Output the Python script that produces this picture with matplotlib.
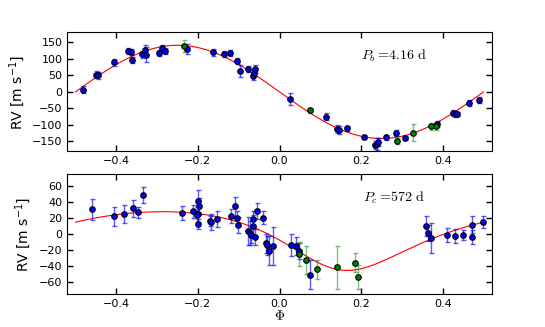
import numpy as np
import matplotlib
matplotlib.use("Agg")
import matplotlib.pyplot as plt

# planet b: phase, RV, error
b_phase_blue = [-0.481, -0.449, -0.445, -0.405, -0.371, -0.364, -0.362, -0.337, -0.329, -0.326,
                -0.296, -0.288, -0.281, -0.226, -0.162, -0.136, -0.121, -0.105, -0.096, -0.078,
                -0.065, -0.063, -0.059, 0.025, 0.115, 0.142, 0.146, 0.166, 0.207, 0.235,
                0.239, 0.241, 0.262, 0.286, 0.308, 0.387, 0.424, 0.430, 0.436, 0.465, 0.489]
b_rv_blue = [7, 52, 50, 89, 123, 120, 96, 114, 128, 113,
             118, 132, 124, 130, 120, 115, 118, 94, 62, 68,
             47, 57, 69, -22, -75, -113, -115, -110, -136, -160,
             -157, -152, -137, -123, -140, -96, -64, -67, -67, -34, -25]
b_err_blue = [10, 10, 10, 10, 9, 9, 10, 10, 14, 22,
              9, 10, 9, 14, 10, 10, 9, 10, 18, 9,
              10, 9, 12, 18, 10, 12, 12, 8, 7, 12,
              18, 12, 8, 9, 7, 9, 8, 8, 7, 10, 10]
b_phase_green = [-0.234, 0.075, 0.287, 0.328, 0.371, 0.383]
b_rv_green = [138, -56, -148, -123, -104, -104]
b_err_green = [18, 8, 10, 27, 10, 10]

# planet c
c_phase_blue = [-0.459, -0.406, -0.381, -0.359, -0.346, -0.335, -0.239, -0.212, -0.199, -0.198,
                -0.200, -0.202, -0.200, -0.171, -0.168, -0.153, -0.120, -0.108, -0.104, -0.102,
                -0.077, -0.073, -0.069, -0.066, -0.065, -0.061, -0.054, -0.041, -0.033, -0.031,
                -0.025, -0.017, 0.029, 0.040, 0.047, 0.075, 0.358, 0.365, 0.371, 0.410,
                0.430, 0.450, 0.471, 0.472, 0.499]
c_rv_blue = [31, 22.5, 25, 32.3, 27.2, 49.3, 26.8, 28.5, 41.2, 35.7,
             25, 24, 12.8, 16.1, 15.3, 19.5, 23, 34.8, 20.4, 11,
             3.8, 1.3, -0.9, 19.5, 9.7, -3.1, 28.5, 20.4, -11.5, -14,
             -20.9, -14.5, -13.2, -15, -21, -50.6, 10.2, 1.3, -5.1, -1.3,
             -2.2, -1.3, 11.9, -3.8, 15.3]
c_err_blue = [12.8, 11.7, 11.3, 11, 6.4, 10.2, 8.5, 8, 13.8, 10,
              10, 10, 6, 6, 10, 10, 9, 12, 9, 10,
              18, 15, 10, 10, 14, 10, 10, 8, 12, 12,
              18, 24, 13.6, 11, 10, 18, 13, 10, 18.7, 9,
              9, 6, 11, 9, 7]
c_phase_green = [0.049, 0.066, 0.091, 0.142, 0.184, 0.193]
c_rv_green = [-25, -32.4, -44.3, -41.7, -35.7, -54]
c_err_green = [15, 17, 12.5, 27, 12, 15]

# orbit models (b circular, c Keplerian)
K_b, phase_max_b = 141.0, -0.25
K_c, e_c, w_c_deg, tp_c, gamma_c = 36.8, 0.24, 162.0, 0.136, -0.3


def kepler_rv(phase, K, e, w, tp, gamma):
    M = 2 * np.pi * (np.asarray(phase) - tp)
    E = M.copy()
    for _ in range(30):
        E = E - (E - e * np.sin(E) - M) / (1 - e * np.cos(E))
    nu = 2 * np.arctan2(np.sqrt(1 + e) * np.sin(E / 2), np.sqrt(1 - e) * np.cos(E / 2))
    return K * (np.cos(nu + w) + e * np.cos(w)) + gamma


fig = plt.figure(figsize=(5.45, 3.27), dpi=100)
ax1 = fig.add_axes([0.1235, 0.537, 0.7787, 0.364])
ax2 = fig.add_axes([0.1235, 0.101, 0.7787, 0.366])

phi = np.linspace(-0.5, 0.5, 500)


def draw(ax, pb, vb, eb, pg, vg, eg, model):
    ax.plot(phi, model, color='r', lw=0.8, zorder=1)
    ax.errorbar(pb, vb, yerr=eb, fmt='none', ecolor='b', alpha=0.65, elinewidth=1,
                capsize=1.8, capthick=1, zorder=2)
    ax.errorbar(pg, vg, yerr=eg, fmt='none', ecolor='g', alpha=0.5, elinewidth=1,
                capsize=1.8, capthick=1, zorder=2)
    ax.plot(pb, vb, 'o', mfc='b', mec='k', ms=4, mew=0.8, zorder=3)
    ax.plot(pg, vg, 'o', mfc='g', mec='k', ms=4, mew=0.8, zorder=3)
    ax.set_xlim(-0.52, 0.52)
    ax.set_xticks([-0.4, -0.2, 0.0, 0.2, 0.4])
    ax.tick_params(direction='in', top=True, right=True, labelsize=8, length=4, width=1)
    ax.set_ylabel(r'RV [m s$^{-1}$]', fontsize=10)


draw(ax1, b_phase_blue, b_rv_blue, b_err_blue, b_phase_green, b_rv_green, b_err_green,
     K_b * np.cos(2 * np.pi * (phi - phase_max_b)))
ax1.set_ylim(-180, 180)
ax1.set_yticks([-150, -100, -50, 0, 50, 100, 150])
ax1.text(0.28, 110, r'$P_b =\!\mathrm{4.16\ d}$', math_fontfamily='cm', fontsize=10,
         ha='center', va='center')

draw(ax2, c_phase_blue, c_rv_blue, c_err_blue, c_phase_green, c_rv_green, c_err_green,
     kepler_rv(phi, K_c, e_c, np.radians(w_c_deg), tp_c, gamma_c))
ax2.set_ylim(-75, 75)
ax2.set_yticks([-60, -40, -20, 0, 20, 40, 60])
ax2.text(0.28, 46, r'$P_c =\!\mathrm{572\ d}$', math_fontfamily='cm', fontsize=10,
         ha='center', va='center')
ax2.set_xlabel(r'$\Phi$', math_fontfamily='cm', fontsize=10, labelpad=0)

fig.savefig('out.png', dpi=100)
